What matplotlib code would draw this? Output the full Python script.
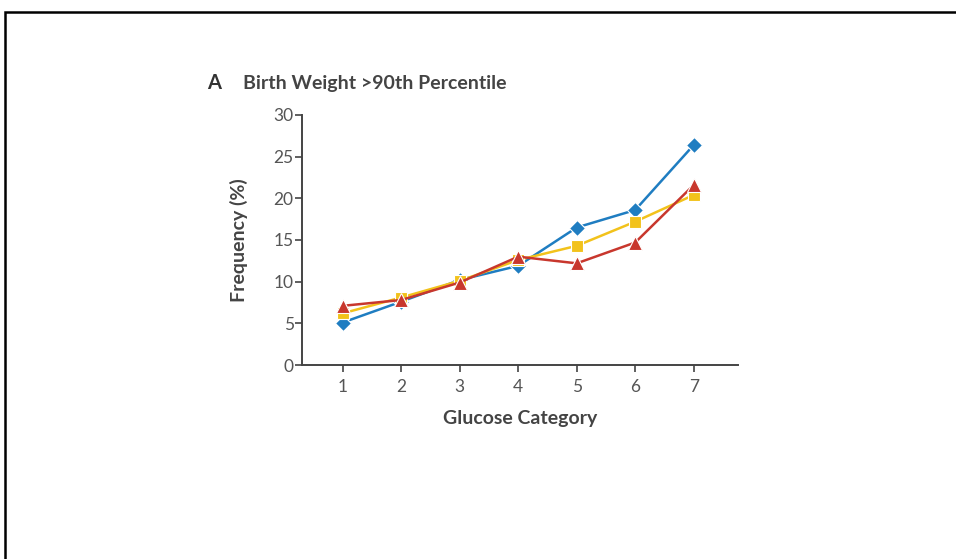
import matplotlib
matplotlib.use("Agg")
import matplotlib.pyplot as plt
from matplotlib.patches import Rectangle

categories = [1, 2, 3, 4, 5, 6, 7]
series_blue = [5.1, 7.6, 10.2, 11.9, 16.5, 18.6, 26.4]
series_yellow = [6.2, 8.1, 10.1, 12.6, 14.3, 17.2, 20.4]
series_red = [7.1, 7.8, 9.9, 13.0, 12.2, 14.7, 21.6]
y_ticks = [0, 5, 10, 15, 20, 25, 30]

plt.rcParams['font.family'] = ['Lato', 'DejaVu Sans']

fig = plt.figure(figsize=(9.56, 5.59), dpi=100)
ax = fig.add_axes([302 / 956, 1 - 365 / 559, (738 - 302) / 956, 250 / 559])

# outer frame
fig.patches.append(Rectangle((5 / 956, -0.2), 1.2, 1.2 - 12 / 559,
                             transform=fig.transFigure, fill=False,
                             edgecolor='black', linewidth=1.8))

styles = [
    (series_blue, '#1f7dc1', 'D', 8.5),
    (series_yellow, '#f2c21b', 's', 8.5),
    (series_red, '#c8372d', '^', 10),
]
for vals, col, mk, ms in styles:
    ax.plot(categories, vals, color=col, linewidth=1.8, marker=mk,
            markersize=ms, markerfacecolor=col, markeredgecolor='white',
            markeredgewidth=0.8, zorder=3)

ax.set_xlim(0.304, 7.757)
ax.set_ylim(0, 30)
ax.set_xticks(categories)
ax.set_yticks(y_ticks)
for s in ['top', 'right']:
    ax.spines[s].set_visible(False)
for s in ['left', 'bottom']:
    ax.spines[s].set_color('#444444')
    ax.spines[s].set_linewidth(1.4)
ax.tick_params(axis='both', colors='#444444', labelcolor='#555555',
               labelsize=12.5, length=5, width=1.2, direction='out')
ax.tick_params(axis='y', pad=1)
ax.tick_params(axis='x', pad=5)

ax.set_xlabel('Glucose Category', fontsize=14, fontweight='bold',
              color='#444444', labelpad=11)
ax.set_ylabel('Frequency (%)', fontsize=14, fontweight='bold',
              color='#444444')
ax.yaxis.set_label_coords(-0.124, 0.5)

fig.text(207 / 956, 1 - 83 / 559, 'A', fontsize=14.5, fontweight='bold',
         color='#333333', va='center', ha='left')
fig.text(243 / 956, 1 - 83 / 559, 'Birth Weight >90th Percentile',
         fontsize=14, fontweight='bold', color='#444444', va='center',
         ha='left')

fig.savefig('out.png', dpi=100)
